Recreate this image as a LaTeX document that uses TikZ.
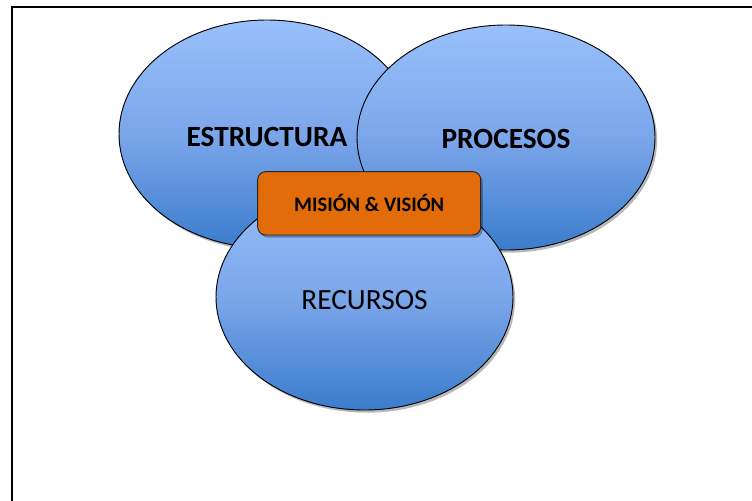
\documentclass[tikz,border=0pt]{standalone}
\usepackage{fontspec}
\setmainfont{Carlito}
\usetikzlibrary{shapes.geometric,shadows}
\definecolor{blueTop}{RGB}{152,192,252}
\definecolor{blueMid}{RGB}{124,166,234}
\definecolor{blueBot}{RGB}{58,124,204}
\definecolor{boxOrange}{HTML}{E36C0A}
\tikzset{
  circ/.style={ellipse, draw=black, line width=0.7pt, inner sep=0pt,
    top color=blueTop, bottom color=blueBot, middle color=blueMid,
    drop shadow={shadow xshift=1.6pt, shadow yshift=-2pt, opacity=0.28, fill=black},
    font=\fontsize{22}{26}\selectfont, text depth=0pt},
  core/.style={rectangle, rounded corners=6pt, draw=black!85, line width=0.7pt,
    fill=boxOrange, inner sep=0pt,
    drop shadow={shadow xshift=1.6pt, shadow yshift=-2pt, opacity=0.3, fill=black},
    font=\bfseries\fontsize{15.4}{18}\selectfont}
}
\begin{document}
\begin{tikzpicture}[x=0.75pt, y=-0.75pt]
\useasboundingbox (0,0) rectangle (752,500);
\fill[white] (0,0) rectangle (752,500);
\coordinate (fb) at (12,500);
\coordinate (fc) at (12,7);
\coordinate (fr) at (752,7);
\draw[line width=1.6pt, line cap=rect] (fb) -- (fc) -- (fr);
\node[circ, minimum width=222pt, minimum height=171pt, text height=18.5pt, font=\bfseries\fontsize{22}{26}\selectfont] (estr) at (267,134) {ESTRUCTURA};
\node[circ, minimum width=223.5pt, minimum height=168.75pt, text height=16.5pt, font=\bfseries\fontsize{22}{26}\selectfont] (proc) at (506,137.5) {PROCESOS};
\node[circ, minimum width=222.75pt, minimum height=169.5pt, text height=18.5pt] (recu) at (364.5,297) {RECURSOS};
\node[core, minimum width=167.25pt, minimum height=47.5pt] (mv) at (369.2,203.3) {MISIÓN \& VISIÓN};
\end{tikzpicture}
\end{document}
